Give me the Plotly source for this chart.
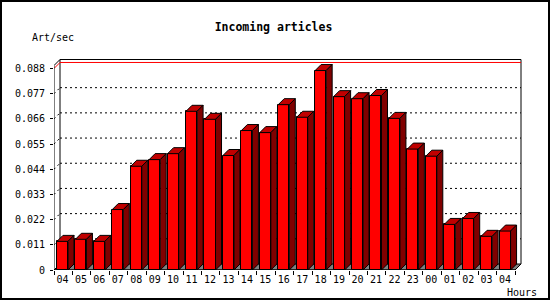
import plotly.graph_objects as go

# ---- data ----
hours = ["04", "05", "06", "07", "08", "09", "10", "11", "12", "13", "14", "15",
         "16", "17", "18", "19", "20", "21", "22", "23", "00", "01", "02", "03", "04"]
art_per_sec = [0.0125, 0.0134, 0.0125, 0.0264, 0.0453, 0.0482, 0.0508, 0.0693,
               0.0658, 0.0500, 0.0609, 0.0600, 0.0722, 0.0667, 0.0871, 0.0757,
               0.0748, 0.0762, 0.0662, 0.0528, 0.0497, 0.0199, 0.0225, 0.0147, 0.0170]
y_ticks = [0, 0.011, 0.022, 0.033, 0.044, 0.055, 0.066, 0.077, 0.088]
y_tick_text = ["0", "0.011", "0.022", "0.033", "0.044", "0.055", "0.066", "0.077", "0.088"]
title_text = "Incoming articles"
y_title = "Art/sec"
x_title = "Hours"

# ---- geometry ----
W, H = 550, 300
ML, MR, MT, MB = 54, 26, 56, 30
PW, PH = W - ML - MR, H - MT - MB
SLOT_PX = 18.44          # pixels per category
UNIT_PX = 2290.0         # pixels per 1.0 of value
XR = [0, PW / SLOT_PX]
YR = [0, PH / UNIT_PX]
DEPTH = 6                # 3D depth in px
dx = DEPTH / SLOT_PX
dy = DEPTH / UNIT_PX
n = len(hours)
bar_w = 0.6
bar_off = 0.16
y_top = 0.0893           # top of front axis

FONT = "DejaVu Sans Mono"

fig = go.Figure()

# front faces as bars
centers = [i + bar_off + bar_w / 2 for i in range(n)]
fig.add_trace(go.Bar(x=centers, y=art_per_sec, width=bar_w,
                     marker=dict(color="#ff0000", line=dict(color="black", width=1)),
                     hoverinfo="skip", showlegend=False))

# top and side faces
tx, ty, sx, sy = [], [], [], []
for i, v in enumerate(art_per_sec):
    x0 = i + bar_off
    x1 = x0 + bar_w
    tx += [x0, x1, x1 + dx, x0 + dx, x0, None]
    ty += [v, v, v + dy, v + dy, v, None]
    sx += [x1, x1 + dx, x1 + dx, x1, x1, None]
    sy += [0, dy, v + dy, v, 0, None]
fig.add_trace(go.Scatter(x=tx, y=ty, mode="lines", fill="toself", fillcolor="#c00000",
                         line=dict(color="black", width=1), hoverinfo="skip", showlegend=False))
fig.add_trace(go.Scatter(x=sx, y=sy, mode="lines", fill="toself", fillcolor="#800000",
                         line=dict(color="black", width=1), hoverinfo="skip", showlegend=False))

shapes = []
# floor
shapes.append(dict(type="path", layer="below", xref="x", yref="y",
                   path=f"M 0 0 L {n} 0 L {n+dx} {dy} L {dx} {dy} Z",
                   fillcolor="#808080", line=dict(color="black", width=1)))
# back wall gridlines (dashed) and side-wall diagonals
for v in y_ticks[1:-1]:
    shapes.append(dict(type="line", layer="below", xref="x", yref="y",
                       x0=dx, x1=n + dx, y0=v + dy, y1=v + dy,
                       line=dict(color="black", width=1, dash="2px,3px")))
    shapes.append(dict(type="line", layer="below", xref="x", yref="y",
                       x0=0, x1=dx, y0=v, y1=v + dy,
                       line=dict(color="black", width=1, dash="2px,3px")))
# back wall outline
shapes.append(dict(type="path", layer="below", xref="x", yref="y",
                   path=f"M {dx} {dy} L {dx} {y_top+dy} L {n+dx} {y_top+dy} L {n+dx} {dy}",
                   line=dict(color="black", width=1)))
# red top line
top_v = y_ticks[-1]
shapes.append(dict(type="path", layer="below", xref="x", yref="y",
                   path=f"M 0 {top_v} L {dx} {top_v+dy} L {n+dx} {top_v+dy}",
                   line=dict(color="#ff0000", width=1)))
# front axes and top diagonal
shapes.append(dict(type="path", layer="above", xref="x", yref="y",
                   path=f"M {dx} {y_top+dy} L 0 {y_top} L 0 0 L {n} 0",
                   line=dict(color="black", width=1)))
# outer frame
shapes.append(dict(type="rect", xref="paper", yref="paper",
                   x0=(1 - ML) / PW, x1=(W - 1 - ML) / PW,
                   y0=-(H - 1 - MT - PH) / PH, y1=1 + (MT - 1) / PH,
                   line=dict(color="black", width=2)))

annotations = [
    dict(text=y_title, xref="paper", yref="paper", x=(30 - ML) / PW, xanchor="left",
         y=1 + (MT - 37) / PH, yanchor="middle", showarrow=False,
         font=dict(family=FONT, size=10, color="black")),
    dict(text=x_title, xref="paper", yref="paper", x=(505 - ML) / PW, xanchor="left",
         y=-(292 - MT - PH) / PH, yanchor="middle", showarrow=False,
         font=dict(family=FONT, size=10, color="black")),
]

fig.update_layout(
    width=W, height=H, margin=dict(l=ML, r=MR, t=MT, b=MB, pad=0),
    paper_bgcolor="white", plot_bgcolor="white",
    shapes=shapes, annotations=annotations, bargap=0,
    title=dict(text="<b>" + title_text + "</b>", x=273.5 / W, xanchor="center",
               y=1 - 27 / H, yanchor="middle", yref="container",
               font=dict(family=FONT, size=11.5, color="black")),
    xaxis=dict(range=XR, showgrid=False, zeroline=False, showline=False,
               tickmode="array", tickvals=centers, ticktext=hours,
               ticks="outside", ticklen=0, tickcolor="black",
               minor=dict(tickmode="array", tickvals=list(range(n + 1)),
                          ticks="outside", ticklen=4, tickcolor="black", showgrid=False),
               tickfont=dict(family=FONT, size=10, color="black"), fixedrange=True),
    yaxis=dict(range=YR, showgrid=False, zeroline=False, showline=False,
               tickmode="array", tickvals=y_ticks, ticktext=y_tick_text,
               ticks="outside", ticklen=3, tickcolor="black", ticklabelstandoff=3,
               tickfont=dict(family=FONT, size=10, color="black"), fixedrange=True),
)

fig.write_html("out.html")
